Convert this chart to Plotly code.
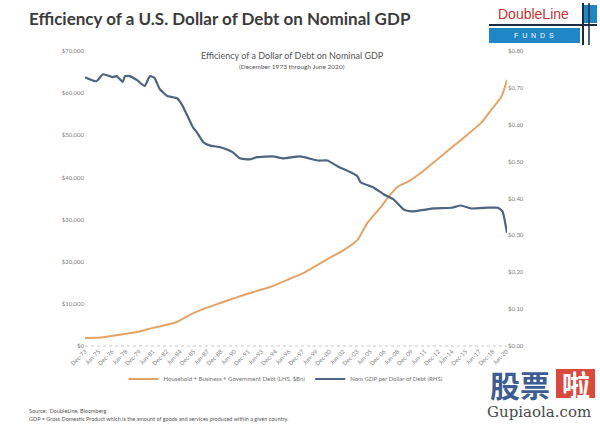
import plotly.graph_objects as go

# ---- data ----
debt_dates = ["1973-12-01", "1975-12-01", "1978-02-01", "1979-09-01", "1981-06-01", "1983-04-01",
              "1984-02-01", "1985-07-01", "1987-01-01", "1988-11-01", "1990-10-01", "1992-07-01",
              "1994-05-01", "1996-04-01", "1998-01-01", "1998-11-01", "2000-07-01", "2002-07-01",
              "2004-01-01", "2005-02-01", "2006-08-01", "2007-06-01", "2008-06-01", "2009-08-01",
              "2011-01-01", "2013-03-01", "2015-06-01", "2017-09-01", "2018-10-01", "2019-11-01",
              "2020-03-01", "2020-06-30"]
debt_values = [1900, 2100, 2800, 3300, 4300, 5200, 5700, 7400, 8800, 10200, 11600, 12800,
               14000, 15700, 17300, 18300, 20400, 22800, 25200, 29200, 33000, 35400, 37800, 39000,
               41100, 44900, 48900, 53000, 56000, 59000, 60800, 63200]

gdp_dates = ["1973-12-01", "1975-03-01", "1975-12-01", "1977-01-01", "1977-06-01", "1978-02-01",
             "1978-05-01", "1978-11-01", "1979-09-01", "1980-07-01", "1981-02-01", "1981-08-01",
             "1982-03-01", "1983-01-01", "1984-02-01", "1984-08-01", "1985-04-01", "1985-11-01",
             "1986-04-01", "1987-01-01", "1987-09-01", "1988-11-01", "1989-08-01", "1990-04-01",
             "1991-01-01", "1992-02-01", "1992-12-01", "1994-09-01", "1995-11-01", "1997-09-01",
             "1999-08-01", "2000-09-01", "2001-11-01", "2003-04-01", "2004-01-01", "2004-05-01",
             "2005-10-01", "2006-12-01", "2008-01-01", "2009-02-01", "2009-12-01", "2012-06-01",
             "2014-05-01", "2015-06-01", "2016-07-01", "2018-06-01", "2019-07-01", "2020-01-01",
             "2020-06-30"]
gdp_values = [0.729, 0.718, 0.737, 0.729, 0.732, 0.716, 0.732, 0.732, 0.721, 0.705, 0.732, 0.727,
              0.697, 0.678, 0.672, 0.656, 0.623, 0.593, 0.580, 0.552, 0.544, 0.539, 0.533, 0.525,
              0.509, 0.506, 0.512, 0.514, 0.509, 0.514, 0.503, 0.503, 0.487, 0.471, 0.460, 0.444,
              0.430, 0.411, 0.397, 0.370, 0.365, 0.373, 0.375, 0.381, 0.373, 0.375, 0.375, 0.365,
              0.307]

tick_dates = ["1973-12-01", "1975-06-01", "1976-12-01", "1978-06-01", "1979-12-01", "1981-06-01",
              "1982-12-01", "1984-06-01", "1985-12-01", "1987-06-01", "1988-12-01", "1990-06-01",
              "1991-12-01", "1993-06-01", "1994-12-01", "1996-06-01", "1997-12-01", "1999-06-01",
              "2000-12-01", "2002-06-01", "2003-12-01", "2005-06-01", "2006-12-01", "2008-06-01",
              "2009-12-01", "2011-06-01", "2012-12-01", "2014-06-01", "2015-12-01", "2017-06-01",
              "2018-12-01", "2020-06-01"]
tick_labels = ["Dec-73", "Jun-75", "Dec-76", "Jun-78", "Dec-79", "Jun-81", "Dec-82", "Jun-84",
               "Dec-85", "Jun-87", "Dec-88", "Jun-90", "Dec-91", "Jun-93", "Dec-94", "Jun-96",
               "Dec-97", "Jun-99", "Dec-00", "Jun-02", "Dec-03", "Jun-05", "Dec-06", "Jun-08",
               "Dec-09", "Jun-11", "Dec-12", "Jun-14", "Dec-15", "Jun-17", "Dec-18", "Jun-20"]

# ---- layout geometry ----
W, H = 600, 427
L, R, T, B = 85, 93, 51, 81
PW, PH = W - L - R, H - T - B


def px(x):
    return (x - L) / PW


def py(y):
    return (H - B - y) / PH


FONT = "Lato, Open Sans, sans-serif"
ORANGE = "#E3A366"
BLUE = "#4E6480"

fig = go.Figure()
fig.add_trace(go.Scatter(x=debt_dates, y=debt_values, mode="lines",
                         name="Household + Business + Government Debt (LHS, $Bn)",
                         line=dict(color=ORANGE, width=2, shape="spline", smoothing=0.6)))
fig.add_trace(go.Scatter(x=gdp_dates, y=gdp_values, mode="lines", yaxis="y2",
                         name="Nom GDP per Dollar of Debt (RHS)",
                         line=dict(color=BLUE, width=2.2, shape="spline", smoothing=0.4)))

fig.update_layout(
    width=W, height=H,
    margin=dict(l=L, r=R, t=T, b=B, autoexpand=False),
    paper_bgcolor="white", plot_bgcolor="white",
    font=dict(family=FONT, color="#808080", size=6),
    showlegend=True,
    legend=dict(orientation="h", xref="container", yref="container",
                x=286 / W, xanchor="center", y=1 - 379 / H, yanchor="middle",
                font=dict(size=6, color="#707070"), itemwidth=30, bgcolor="rgba(0,0,0,0)"),
    xaxis=dict(type="date", range=["1973-12-01", "2020-06-30"], tickmode="array",
               tickvals=tick_dates, ticktext=tick_labels, tickangle=-45, showgrid=False,
               zeroline=False, showline=False, ticks="", automargin=False,
               tickfont=dict(size=6, color="#808080")),
    yaxis=dict(range=[0, 70000], dtick=10000, tickformat="$,.0f", showgrid=False,
               zeroline=False, showline=False, ticks="", automargin=False,
               tickfont=dict(size=6, color="#808080")),
    yaxis2=dict(range=[0, 0.8], dtick=0.1, tickformat="$.2f", overlaying="y", side="right",
                showgrid=False, zeroline=False, showline=False, ticks="", automargin=False,
                tickfont=dict(size=6, color="#808080")),
)

shapes = [
    # dotted baseline
    dict(type="line", xref="paper", yref="paper", x0=0, x1=px(507), y0=0, y1=0,
         line=dict(color="#c8c8c8", width=1, dash="dot"), layer="below"),
    # logo pieces
    dict(type="rect", xref="paper", yref="paper", x0=px(489), x1=px(580), y0=py(43), y1=py(28),
         fillcolor="#1F87C6", line=dict(width=0)),
    dict(type="rect", xref="paper", yref="paper", x0=px(584), x1=px(597), y0=py(23), y1=py(5),
         fillcolor="#1F87C6", line=dict(width=0)),
    dict(type="line", xref="paper", yref="paper", x0=px(489), x1=px(597), y0=py(25), y1=py(25),
         line=dict(color="#1c2a44", width=2)),
    dict(type="line", xref="paper", yref="paper", x0=px(583), x1=px(583), y0=py(45), y1=py(3),
         line=dict(color="#1c2a44", width=2)),
    dict(type="line", xref="paper", yref="paper", x0=px(589), x1=px(589), y0=py(45), y1=py(3),
         line=dict(color="#1c2a44", width=1.5)),
    # watermark red box
    dict(type="rect", xref="paper", yref="paper", x0=px(556), x1=px(595), y0=py(398), y1=py(369),
         fillcolor="#D9493E", line=dict(width=0)),
]

annotations = [
    dict(text="<b>Efficiency of a U.S. Dollar of Debt on Nominal GDP</b>", x=px(27), y=py(19),
         xref="paper", yref="paper", xanchor="left", yanchor="middle", showarrow=False,
         font=dict(family=FONT, size=17, color="#3b3b3b")),
    dict(text="DoubleLine", x=px(533), y=py(14), xref="paper", yref="paper", xanchor="center",
         yanchor="middle", showarrow=False,
         font=dict(family="Liberation Sans Narrow, Liberation Sans, sans-serif", size=14, color="#C8322F")),
    dict(text="F  U  N  D  S", x=px(534), y=py(35.5), xref="paper", yref="paper", xanchor="center",
         yanchor="middle", showarrow=False,
         font=dict(family="Liberation Sans, sans-serif", size=7, color="white")),
    dict(text="Efficiency of a Dollar of Debt on Nominal GDP", x=px(292), y=py(55), xref="paper",
         yref="paper", xanchor="center", yanchor="middle", showarrow=False,
         font=dict(family=FONT, size=9, color="#555555")),
    dict(text="(December 1973 through June 2020)", x=px(292), y=py(66), xref="paper",
         yref="paper", xanchor="center", yanchor="middle", showarrow=False,
         font=dict(family=FONT, size=6.5, color="#555555")),
    dict(text="Source:  DoubleLine, Bloomberg", x=px(27), y=py(411), xref="paper", yref="paper",
         xanchor="left", yanchor="middle", showarrow=False,
         font=dict(family=FONT, size=5.5, color="#555555")),
    dict(text="GDP = Gross Domestic Product which is the amount of goods and services produced within a given country.",
         x=px(27), y=py(419), xref="paper", yref="paper", xanchor="left", yanchor="middle",
         showarrow=False, font=dict(family=FONT, size=5.5, color="#555555")),
    # watermark
    dict(text="<b>股票</b>", x=px(520), y=py(384), xref="paper", yref="paper", xanchor="center",
         yanchor="middle", showarrow=False,
         font=dict(family="Noto Sans CJK SC", size=30, color="#3C5C92")),
    dict(text="<b>啦</b>", x=px(575.5), y=py(384), xref="paper", yref="paper", xanchor="center",
         yanchor="middle", showarrow=False,
         font=dict(family="Noto Sans CJK SC", size=28, color="white")),
    dict(text="Gupiaola.com", x=px(539), y=py(412), xref="paper", yref="paper", xanchor="center",
         yanchor="middle", showarrow=False,
         font=dict(family="DejaVu Serif, Liberation Serif, serif", size=15, color="#4a4a4a")),
]

fig.update_layout(shapes=shapes, annotations=annotations)
fig.write_html("out.html", config={"displayModeBar": False},
               post_script="document.body.style.margin='0';document.body.style.overflow='hidden';")
